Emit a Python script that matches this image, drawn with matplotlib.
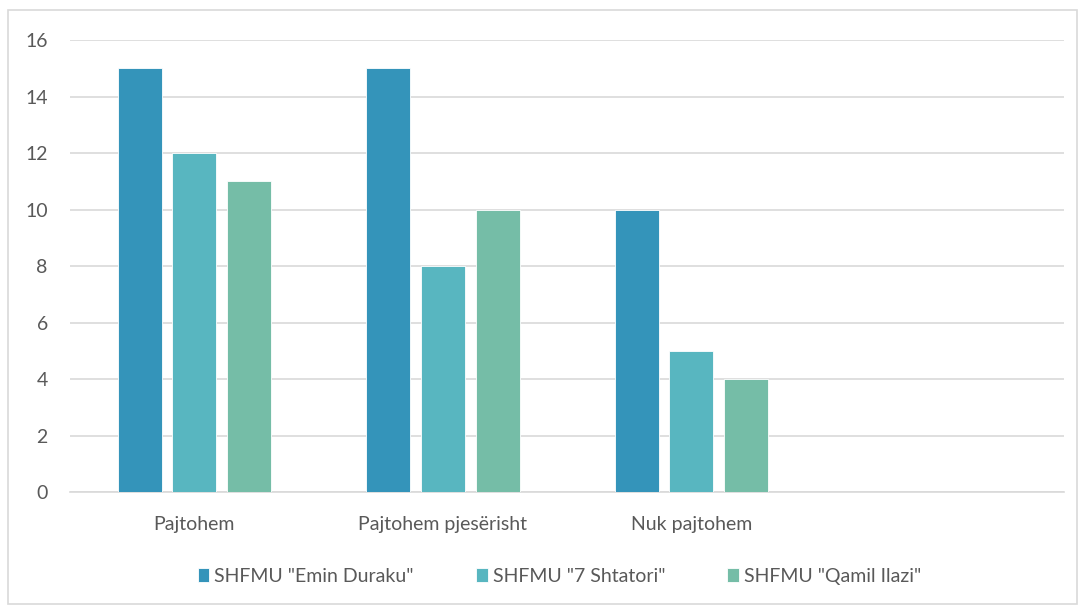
import numpy as np
import matplotlib.pyplot as plt
from matplotlib.patches import Rectangle

plt.rcParams['font.family'] = ['Lato', 'DejaVu Sans']

# data
categories = ['Pajtohem', 'Pajtohem pjesërisht', 'Nuk pajtohem', '']
series_names = ['SHFMU "Emin Duraku"', 'SHFMU "7 Shtatori"', 'SHFMU "Qamil Ilazi"']
emin_duraku = [15, 15, 10, 0]
shtatori = [12, 8, 5, 0]
qamil_ilazi = [11, 10, 4, 0]
colors = ['#3494BA', '#58B6C0', '#75BDA7']

fig = plt.figure(figsize=(10.82, 6.07), dpi=100)
# outer chart border
fig.patches.append(Rectangle((0.007, 0.005), 0.988, 0.978, transform=fig.transFigure,
                             fill=False, edgecolor='#D9D9D9', linewidth=1.2))

ax = fig.add_axes([0.0647, 0.189, 0.919, 0.745])
x = np.arange(len(categories))
width = 0.177
step = 0.22
for i, (vals, name) in enumerate(zip([emin_duraku, shtatori, qamil_ilazi], series_names)):
    ax.bar(x + (i - 1) * step, vals, width, color=colors[i], label=name,
           edgecolor='white', linewidth=0.6, zorder=3)

ax.set_xlim(-0.5, len(categories) - 0.5)
ax.set_ylim(0, 16)
ax.set_yticks(range(0, 17, 2))
ax.set_xticks(x[:3])
ax.set_xticklabels(categories[:3])
ax.yaxis.grid(True, color='#D9D9D9', linewidth=1.2, zorder=0)
for s in ['top', 'right', 'left']:
    ax.spines[s].set_visible(False)
ax.spines['bottom'].set_color('#D9D9D9')
ax.spines['bottom'].set_linewidth(1.2)
ax.tick_params(axis='both', length=0, labelsize=14, colors='#595959')
ax.tick_params(axis='x', pad=17)
ax.tick_params(axis='y', pad=16)

ax.legend(loc='center', bbox_to_anchor=(0.517, 0.05), bbox_transform=fig.transFigure,
          ncol=3, frameon=False, fontsize=14, labelcolor='#595959',
          handlelength=0.6, handleheight=0.75, handletextpad=0.25, columnspacing=3.2)

fig.savefig('out.png', dpi=100)
